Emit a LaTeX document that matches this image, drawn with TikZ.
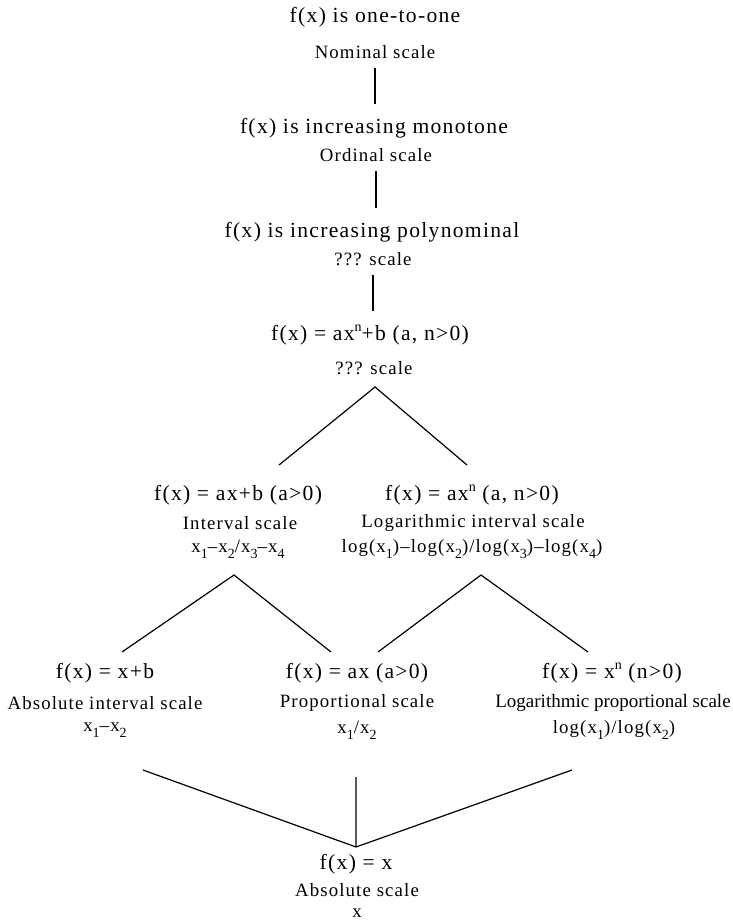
\documentclass[tikz,border=0pt]{standalone}
\usepackage{fontspec}
\setmainfont{Liberation Serif}
\newfontfamily\widefont[LetterSpace=6]{Liberation Serif}
\newcommand\lo[1]{\raisebox{-0.32em}{\fontsize{7}{8}\selectfont#1}} % index below
\newcommand\hi[1]{\raisebox{0.42em}{\fontsize{7}{8}\selectfont#1}} % exponent above

\begin{document}
\begin{tikzpicture}[
	x=0.5pt, y=-0.5pt, % one unit is one pixel of the page, y runs down
	every node/.style={inner sep=0pt},
	fn/.style={font=\widefont\fontsize{10.8}{12}\selectfont}, % the f(x) lines
	sc/.style={font=\widefont\fontsize{9.4}{11}\selectfont}, % scale names and ratios
	lg/.style={font=\fontsize{9.5}{11}\selectfont}, % one name set tighter
	rung/.style={shorten <=4.5pt, shorten >=6.5pt}, % vertical links of the chain
	line width=0.6pt,
	]
	\useasboundingbox (0,0) rectangle (733,921);

	% the chain at the top
	\node[fn] (t1) at (375,17) {f(x) is one-to-one};
	\node[sc] (s1) at (375,52) {Nominal scale};
	\node[fn] (t2) at (374,128) {f(x) is increasing monotone};
	\node[sc] (s2) at (376,155) {Ordinal scale};
	\node[fn] (t3) at (372,232) {f(x) is increasing polynominal};
	\node[sc] (s3) at (373,259) {??? scale};
	\node[fn] (t4) at (370,335) {f(x) = ax\hi{n}+b (a, n>0)};
	\node[sc] (s4) at (374,368) {??? scale};

	% second level
	\node[fn] (t5a) at (238,495) {f(x) = ax+b (a>0)};
	\node[sc] (s5a) at (240,523) {Interval scale};
	\node[sc] (r5a) at (238,549) {x\lo{1}–x\lo{2}/x\lo{3}–x\lo{4}};
	\node[fn] (t5b) at (472,495) {f(x) = ax\hi{n} (a, n>0)};
	\node[sc] (s5b) at (473,523) {Logarithmic interval scale};
	\node[sc] (r5b) at (472,549) {log(x\lo{1})–log(x\lo{2})/log(x\lo{3})–log(x\lo{4})};

	% third level
	\node[fn] (t6a) at (105,673) {f(x) = x+b};
	\node[sc] (s6a) at (105,703) {Absolute interval scale};
	\node[sc] (r6a) at (105,730) {x\lo{1}–x\lo{2}};
	\node[fn] (t6b) at (357,673) {f(x) = ax (a>0)};
	\node[sc] (s6b) at (357,703) {Proportional scale};
	\node[sc] (r6b) at (357,730) {x\lo{1}/x\lo{2}};
	\node[fn] (t6c) at (612,673) {f(x) = x\hi{n} (n>0)};
	\node[lg] (s6c) at (613,703) {Logarithmic proportional scale};
	\node[sc] (r6c) at (614,730) {log(x\lo{1})/log(x\lo{2})};

	% bottom
	\node[fn] (t7) at (356,864) {f(x) = x};
	\node[sc] (s7) at (357,890) {Absolute scale};
	\node[sc] (r7) at (357,913) {x};

	% tips of the branches
	\coordinate (a4) at (375,387);
	\coordinate (l4) at (279,465);
	\coordinate (r4) at (467,465);
	\coordinate (a5a) at (234,575);
	\coordinate (l5a) at (122,652);
	\coordinate (r5a) at (331,652);
	\coordinate (a5b) at (481,575);
	\coordinate (l5b) at (378,652);
	\coordinate (r5b) at (588,652);
	\coordinate (e6a) at (143,770);
	\coordinate (e6b) at (356,777);
	\coordinate (e6c) at (572,770);
	\coordinate (a7) at (356,847);

	\draw[rung] (s1.south) -- (s1.south |- t2.north);
	\draw[rung] (s2.south) -- (s2.south |- t3.north);
	\draw[rung] (s3.south) -- (s3.south |- t4.north);
	\draw
		(l4) -- (a4) -- (r4)
		(l5a) -- (a5a) -- (r5a)
		(l5b) -- (a5b) -- (r5b)
		(e6a) -- (a7) -- (e6c)
		(e6b) -- (a7)
	;
\end{tikzpicture}
\end{document}
